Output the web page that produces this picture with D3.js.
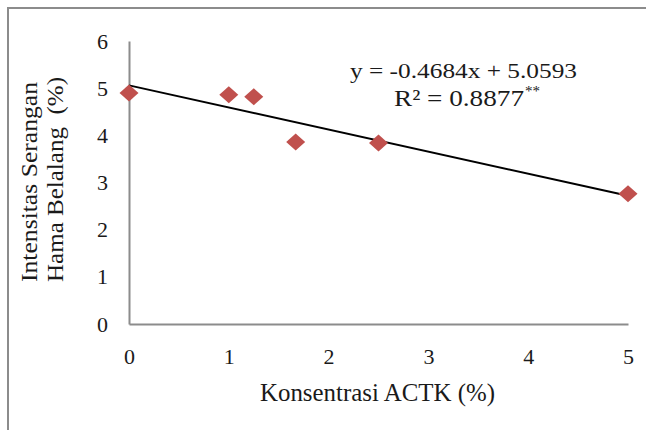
<!DOCTYPE html>
<html><head><meta charset="utf-8">
<script src="https://cdn.jsdelivr.net/npm/d3@7"></script>
<style>body{margin:0;background:#fff}svg{display:block}</style>
</head><body><svg id="c" width="646" height="430"></svg>
<script>
const concentrations = [0, 1, 1.25, 1.67, 2.5, 5];
const intensity = [4.9, 4.86, 4.82, 3.86, 3.84, 2.76];
const slope = -0.4684, intercept = 5.0593;
const xTicks = [0, 1, 2, 3, 4, 5];
const yTicks = [0, 1, 2, 3, 4, 5, 6];
const eqLabel = "y = -0.4684x + 5.0593";
const r2Label = "R² = 0.8877";
const xTitle = "Konsentrasi ACTK (%)";
const yTitle = ["Intensitas Serangan", "Hama Belalang  (%)"];

const svg = d3.select("#c");
const font = "'Liberation Serif', 'Times New Roman', serif";
const ink = "#1a1a1a";
svg.append("rect").attr("x", 8).attr("y", 8).attr("width", 700).attr("height", 500)
  .attr("fill", "none").attr("stroke", "#8c8c8c").attr("stroke-width", 2);

const x = d3.scaleLinear().domain([0, 5]).range([129, 628]);
const y = d3.scaleLinear().domain([0, 6]).range([324, 41]);

const xAxis = svg.append("g").attr("transform", "translate(0,324)")
  .call(d3.axisBottom(x).tickValues(xTicks).tickSize(0).tickPadding(24).tickFormat(d3.format("d")));
const yAxis = svg.append("g").attr("transform", "translate(129,0)")
  .call(d3.axisLeft(y).tickValues(yTicks).tickSize(0).tickPadding(21).tickFormat(d3.format("d")));
[xAxis, yAxis].forEach(g => {
  g.select(".domain").attr("stroke", "#8c8c8c").attr("stroke-width", 2);
  g.selectAll("text").attr("font-family", font).attr("font-size", 22).attr("fill", ink);
});

svg.append("line")
  .attr("x1", x(0)).attr("y1", y(intercept))
  .attr("x2", x(5)).attr("y2", y(intercept + slope * 5))
  .attr("stroke", "#000").attr("stroke-width", 2);

const diamond = { draw(ctx) { ctx.moveTo(0, -8.5); ctx.lineTo(9.5, 0); ctx.lineTo(0, 8.5); ctx.lineTo(-9.5, 0); ctx.closePath(); } };
svg.append("g").selectAll("path").data(concentrations).join("path")
  .attr("d", d3.symbol().type(diamond))
  .attr("transform", (d, i) => `translate(${x(d)},${y(intensity[i])})`)
  .attr("fill", "#C0504D");

svg.append("text").attr("x", 350).attr("y", 78)
  .attr("textLength", 227).attr("lengthAdjust", "spacingAndGlyphs")
  .attr("font-family", font).attr("font-size", 22).attr("fill", ink).text(eqLabel);
svg.append("text").attr("x", 394).attr("y", 106)
  .attr("textLength", 130).attr("lengthAdjust", "spacingAndGlyphs")
  .attr("font-family", font).attr("font-size", 23).attr("fill", ink).text(r2Label);
svg.append("text").attr("x", 525).attr("y", 96)
  .attr("font-family", font).attr("font-size", 15).attr("fill", ink).text("**");

svg.append("text").attr("x", 260).attr("y", 401)
  .attr("textLength", 235).attr("lengthAdjust", "spacingAndGlyphs")
  .attr("font-family", font).attr("font-size", 25).attr("fill", ink).text(xTitle);

const yLens = [200, 205];
yTitle.forEach((t, i) => {
  svg.append("text").attr("transform", `translate(${37 + i * 26},282) rotate(-90)`)
    .style("white-space", "pre")
    .attr("textLength", yLens[i]).attr("lengthAdjust", "spacingAndGlyphs")
    .attr("font-family", font).attr("font-size", 23).attr("fill", ink).text(t);
});
</script></body></html>
